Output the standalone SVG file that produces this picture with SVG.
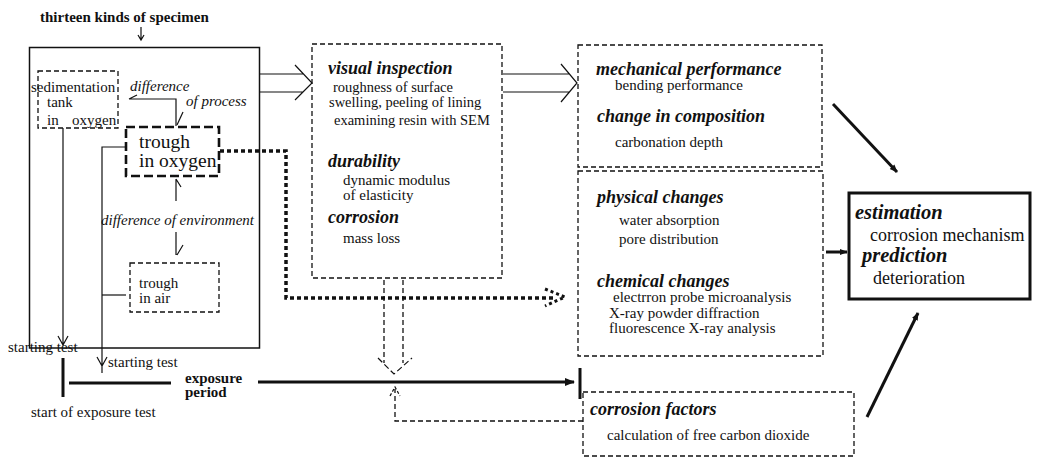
<svg xmlns="http://www.w3.org/2000/svg" width="1037" height="458" viewBox="0 0 1037 458">
<style>
text{font-family:'Liberation Serif','DejaVu Serif',serif;fill:#111}
.t{font-size:15px}
.m{font-size:14.5px}
.h{font-size:18px;font-weight:bold;font-style:italic}
.i{font-size:15px;font-style:italic}
.b{font-size:15px;font-weight:bold}
.ln{stroke:#111;stroke-width:1.2;fill:none}
.dbox{stroke:#111;stroke-width:1.3;fill:none;stroke-dasharray:5 3}
.thick{stroke:#111;stroke-width:3;fill:none}
.dot{stroke:#111;stroke-width:3.5;fill:none;stroke-dasharray:4 3}
</style>
<defs>
<marker id="ah" viewBox="0 0 10 10" refX="9" refY="5" markerWidth="8" markerHeight="8" markerUnits="userSpaceOnUse" orient="auto">
<path d="M0,1 L10,5 L0,9 Z" fill="#111"/>
</marker>
<marker id="ahs" viewBox="0 0 10 10" refX="9" refY="5" markerWidth="14" markerHeight="10" markerUnits="userSpaceOnUse" orient="auto">
<path d="M0,1 L10,5 L0,9 Z" fill="#111"/>
</marker>
</defs>
<rect width="1037" height="458" fill="#fff"/>

<g id="title">
<text class="b" x="40" y="22">thirteen kinds of specimen</text>
<path class="ln" d="M141,27 V40 M138,35 L141,40 L144,35"/>
</g>

<g id="specimen-box">
<rect x="29.5" y="47.5" width="230" height="300.5" fill="none" stroke="#111" stroke-width="1.5"/>
</g>

<g id="sedimentation-tank">
<rect class="dbox" x="38" y="71" width="80" height="57"/>
<text class="t" x="31" y="92">sedimentation</text>
<text class="t" x="47" y="107">tank</text>
<text class="t" x="47" y="125">in</text>
<text class="t" x="72" y="125">oxygen</text>
</g>

<g id="trough-oxygen">
<rect x="126" y="127" width="93" height="49" fill="none" stroke="#111" stroke-width="2.6" stroke-dasharray="9 4"/>
<text x="139" y="148" style="font-size:19.5px">trough</text>
<text x="139" y="167" style="font-size:19.5px">in oxygen</text>
</g>

<g id="trough-air">
<rect class="dbox" x="130" y="263" width="89" height="49"/>
<text class="t" x="139" y="288">trough</text>
<text class="t" x="139" y="303">in air</text>
</g>

<g id="labels-left">
<text class="i" x="130" y="91">difference</text>
<text class="i" x="186" y="106">of process</text>
<text class="i" x="101" y="225">difference of environment</text>
<text class="t" x="8" y="352">starting test</text>
<text class="t" x="108" y="367">starting test</text>
<text class="b" x="185" y="383">exposure</text>
<text class="b" x="185" y="397">period</text>
<text class="t" x="31" y="417">start of exposure test</text>
</g>

<g id="inspection-box">
<rect class="dbox" x="312" y="44" width="190" height="234"/>
<text class="h" x="328" y="74">visual inspection</text>
<text class="m" x="333" y="92">roughness of surface</text>
<text class="m" x="329" y="107">swelling, peeling of lining</text>
<text class="m" x="334" y="125">examining resin with SEM</text>
<text class="h" x="328" y="167">durability</text>
<text class="t" x="343" y="185">dynamic modulus</text>
<text class="t" x="343" y="200">of elasticity</text>
<text class="h" x="328" y="223">corrosion</text>
<text class="t" x="343" y="243">mass loss</text>
</g>

<g id="mechanical-box">
<rect class="dbox" x="578" y="45" width="244" height="122"/>
<text class="h" x="596" y="75">mechanical performance</text>
<text class="t" x="615" y="90">bending performance</text>
<text class="h" x="597" y="122">change in composition</text>
<text class="t" x="615" y="147">carbonation depth</text>
</g>

<g id="changes-box">
<rect class="dbox" x="578" y="171" width="245" height="185"/>
<text class="h" x="597" y="203">physical changes</text>
<text class="t" x="619" y="225">water absorption</text>
<text class="t" x="619" y="244">pore distribution</text>
<text class="h" x="597" y="287">chemical changes</text>
<text class="t" x="613" y="302">electrron probe microanalysis</text>
<text class="t" x="609" y="318">X-ray powder diffraction</text>
<text class="t" x="609" y="333">fluorescence X-ray analysis</text>
</g>

<g id="factors-box">
<rect class="dbox" x="583" y="392" width="271" height="64"/>
<text class="h" x="590" y="415">corrosion factors</text>
<text class="t" x="607" y="440">calculation of free carbon dioxide</text>
</g>

<g id="estimation-box">
<rect x="849" y="193" width="181" height="106" fill="none" stroke="#111" stroke-width="3"/>
<text class="h" x="855" y="219" style="font-size:20.5px">estimation</text>
<text class="t" x="870" y="241" style="font-size:18px">corrosion mechanism</text>
<text class="h" x="862" y="262" style="font-size:20.5px">prediction</text>
<text class="t" x="873" y="284" style="font-size:18px">deterioration</text>
</g>

<g id="connectors">
<path class="ln" d="M129,99 L137,95 M129,99 H176 V126"/>
<path class="ln" d="M183,112 L177,125"/>
<path class="ln" d="M176,201 V179 M176,179 L181,187"/>
<path class="ln" d="M176,232 V255 M183,245 L177,255"/>
<path class="ln" d="M63,128 V345 M58,336 L63,345 L68,336"/>
<path class="ln" d="M126,147 H102 V373 M97,357 L102,366 L107,357"/>
<path class="ln" d="M102,295 H126"/>
<path class="ln" d="M260,74 H303 M260,92 H303 M295,65 L312,83 L295,100"/>
<path class="ln" d="M503,74 H570 M503,92 H570 M561,64 L577,83 L561,102"/>
<path class="dot" d="M220,151 H286 V298 H556"/>
<path d="M545,289 L565,297 L545,306" fill="none" stroke="#111" stroke-width="3" stroke-dasharray="3 3"/>
<path class="dbox" d="M384,280 V363 M403,280 V363"/>
<path d="M378,358 L394,374 L412,358" fill="none" stroke="#111" stroke-width="1.2" stroke-dasharray="6 3"/>
<path class="dbox" d="M583,421 H395 V389"/>
<path d="M390,396 L395,387 L400,396" fill="none" stroke="#111" stroke-width="1.2" stroke-dasharray="3 2"/>
<path class="thick" d="M63,358 V397"/>
<path class="thick" d="M69,383 H171"/>
<path d="M258,382 H574" stroke="#111" stroke-width="3" fill="none" marker-end="url(#ahs)"/>
<path class="thick" d="M580,368 V399"/>
<path d="M833,104 L897,172" stroke="#111" stroke-width="3" fill="none" marker-end="url(#ah)"/>
<path d="M826,252 L847,252" stroke="#111" stroke-width="3" fill="none" marker-end="url(#ah)"/>
<path d="M867,417 L918,313" stroke="#111" stroke-width="3" fill="none" marker-end="url(#ah)"/>
</g>
</svg>
